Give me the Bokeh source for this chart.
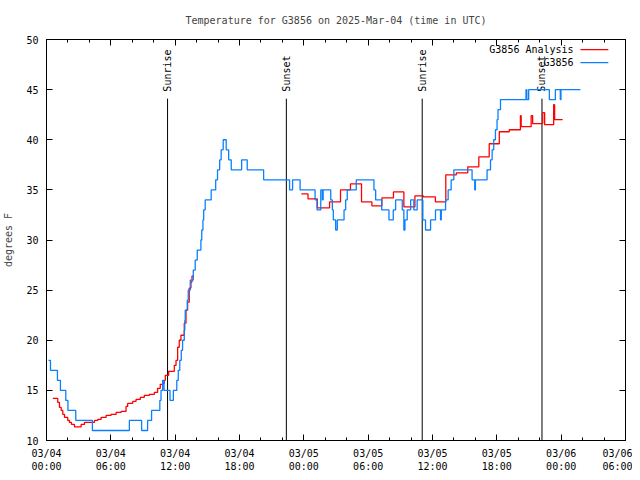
import math
from bokeh.plotting import figure
from bokeh.models import Range1d, FixedTicker, LinearAxis, Label, Arrow
from bokeh.core.properties import value
from bokeh.embed import file_html
from bokeh.resources import INLINE

FONT = "DejaVu Sans Mono"
RED = "#ff0000"
BLUE = "#0a80ff"

title_text = "Temperature for G3856 on 2025-Mar-04 (time in UTC)"
x_tick_hours = [0, 6, 12, 18, 24, 30, 36, 42, 48, 54]
x_tick_labels = ["03/04\n00:00", "03/04\n06:00", "03/04\n12:00", "03/04\n18:00",
                 "03/05\n00:00", "03/05\n06:00", "03/05\n12:00", "03/05\n18:00",
                 "03/06\n00:00", "03/06\n06:00"]
x_minor_hours = [h for h in range(0, 55, 2)]
y_ticks = [10, 15, 20, 25, 30, 35, 40, 45, 50]

# Observations (G3856), hours since 03/04 00:00 UTC, deg F
obs_hours = [0.19, 0.37, 1.02, 1.30, 1.80, 2.00, 2.73, 4.28, 7.73, 8.87, 9.43, 9.80,
             10.57, 10.68, 10.83, 10.96, 11.52, 11.83, 12.15, 12.29, 12.43, 12.57,
             12.69, 12.85, 12.90, 12.94, 13.13, 13.22, 13.41, 13.69, 13.87, 14.06,
             14.40, 14.48, 14.59, 14.66, 14.80, 15.36, 15.78, 15.95, 16.15, 16.29,
             16.48, 16.76, 16.99, 17.23, 18.20, 18.72, 20.25, 22.67, 22.95, 23.65,
             25.05, 25.23, 25.58, 25.73, 25.80, 26.51, 26.66, 26.75, 26.97, 27.12,
             27.75, 27.90, 28.05, 28.89, 30.54, 30.70, 31.26, 31.94, 32.34, 32.56,
             33.18, 33.33, 33.43, 33.64, 33.96, 34.26, 34.57, 35.10, 35.35, 35.82,
             36.28, 36.75, 36.82, 37.22, 37.46, 37.74, 37.99, 39.69, 39.94, 40.00,
             41.09, 41.41, 41.56, 41.71, 41.87, 42.02, 42.11, 42.34, 44.72, 44.80,
             44.97, 46.90, 47.46, 47.92, 47.98, 49.79]
obs_temps = [18, 17, 16, 15, 14, 13, 12, 11, 12, 11, 12, 13,
             14, 15, 16, 15, 14, 15, 16, 17, 18, 19,
             20, 21, 22, 23, 24, 25, 26, 27, 28, 29,
             30, 31, 32, 33, 34, 35, 36, 37, 38, 39,
             40, 39, 38, 37, 38, 37, 36, 35, 36, 35,
             34, 33, 35, 34, 35, 34, 33, 32, 31, 32,
             33, 34, 35, 36, 35, 34, 33, 32, 33, 34,
             33, 31, 32, 33, 34, 33, 34, 32, 31, 32,
             33, 32, 33, 34, 35, 36, 37, 36, 35, 36,
             37, 38, 39, 40, 41, 42, 43, 44, 45, 44,
             45, 44, 45, 44, 45, 45]

# Analysis (G3856 Analysis), first stretch
ana1_hours = [0.59, 1.05, 1.21, 1.37, 1.52, 1.68, 1.98, 2.14, 2.33, 2.61, 3.23, 3.54,
              4.47, 4.78, 5.09, 5.56, 6.02, 6.49, 6.96, 7.42, 7.57, 8.04, 8.35, 8.75,
              9.12, 9.59, 10.06, 10.36, 10.61, 10.83, 10.99, 11.08, 11.39, 11.92, 12.08,
              12.23, 12.38, 12.54, 12.85, 13.01, 13.16, 13.31, 13.47, 13.57, 13.75]
ana1_temps = [14.2, 13.8, 13.3, 13.0, 12.6, 12.3, 12.0, 11.8, 11.6, 11.35, 11.6, 11.8,
              12.0, 12.1, 12.3, 12.5, 12.6, 12.8, 12.9, 13.4, 13.7, 13.9, 14.1, 14.3,
              14.5, 14.6, 14.8, 15.2, 15.6, 15.7, 16.0, 16.5, 16.9, 17.5, 18.0,
              19.3, 20.0, 20.5, 21.7, 23.0, 23.8, 25.2, 25.8, 26.4, 26.4]
# Analysis, second stretch
ana2_hours = [23.77, 24.39, 25.26, 26.40, 27.42, 28.35, 29.38, 30.35, 31.28, 32.36,
              33.33, 34.36, 35.15, 36.27, 37.24, 38.22, 39.29, 40.32, 41.29, 42.23,
              43.16, 44.20, 44.27, 45.20, 45.34, 46.28, 46.46, 47.30, 47.39, 48.14]
ana2_temps = [34.6, 34.1, 33.2, 33.8, 35.0, 35.6, 33.8, 33.4, 34.2, 34.8,
              33.3, 34.4, 34.3, 33.8, 36.5, 36.7, 37.3, 38.3, 39.6, 40.8,
              41.0, 42.4, 41.3, 42.4, 41.6, 42.7, 41.5, 43.5, 42.0, 42.0]

event_hours = [11.29, 22.37, 35.04, 46.21]
event_names = ["Sunrise", "Sunset", "Sunrise", "Sunset"]
event_line_top = 44.1
event_label_base = 44.8

p = figure(width=632, height=474, output_backend="svg", toolbar_location=None,
           x_range=Range1d(0, 54), y_range=Range1d(10, 50),
           min_border_left=46, min_border_right=7, min_border_top=39, min_border_bottom=31,
           title=title_text)
p.title.align = "center"
p.title.vertical_align = "top"
p.title.standoff = 24
p.title.text_font = FONT
p.title.text_font_size = "10px"
p.title.text_font_style = "normal"
p.xgrid.visible = False
p.ygrid.visible = False
p.outline_line_color = "black"
p.outline_line_width = 1
p.background_fill_color = "white"
p.border_fill_color = "white"

xticker = FixedTicker(ticks=x_tick_hours, minor_ticks=x_minor_hours)
yticker = FixedTicker(ticks=y_ticks, minor_ticks=[])

for ax in p.xaxis:
    ax.ticker = xticker
    ax.major_label_overrides = {h: lab for h, lab in zip(x_tick_hours, x_tick_labels)}
for ax in p.yaxis:
    ax.ticker = yticker
    ax.axis_label = "degrees F"

def style_axis(ax):
    ax.axis_line_color = "black"
    ax.major_tick_in = 6
    ax.major_tick_out = 0
    ax.minor_tick_in = 3
    ax.minor_tick_out = 0
    ax.major_tick_line_color = "black"
    ax.minor_tick_line_color = "black"
    ax.major_label_text_font = FONT
    ax.major_label_text_font_size = "10px"
    ax.major_label_text_color = "black"
    ax.major_label_standoff = 7
    ax.axis_label_text_font = FONT
    ax.axis_label_text_font_size = "10px"
    ax.axis_label_text_font_style = "normal"

for ax in p.xaxis + p.yaxis:
    style_axis(ax)
p.yaxis[0].major_label_standoff = 8
p.yaxis[0].axis_label_standoff = 9

top_axis = LinearAxis(ticker=xticker)
right_axis = LinearAxis(ticker=yticker)
for ax, ticks in ((top_axis, x_tick_hours), (right_axis, y_ticks)):
    style_axis(ax)
    ax.major_label_overrides = {t: "" for t in ticks}
    ax.major_label_standoff = 0
    ax.axis_line_color = None
p.add_layout(top_axis, "above")
p.add_layout(right_axis, "right")

# Sunrise / sunset markers
p.segment(x0=event_hours, y0=[10] * len(event_hours), x1=event_hours,
          y1=[event_line_top] * len(event_hours), line_color="black", line_width=1)
p.text(x=event_hours, y=[event_label_base] * len(event_hours), text=event_names,
       angle=math.pi / 2, text_align="left", text_baseline="middle",
       text_font=value(FONT), text_font_size="10px", text_color="black")

# Series
p.step(ana1_hours, ana1_temps, mode="after", line_color=RED, line_width=1.3)
p.step(ana2_hours, ana2_temps, mode="after", line_color=RED, line_width=1.3)
p.step(obs_hours, obs_temps, mode="after", line_color=BLUE, line_width=1.3)

# Legend (text right-aligned, sample line to its right)
leg_text_x = 49.16
leg_line = (49.8, 52.4)
for name, col, yy in [("G3856 Analysis", RED, 49.0), ("G3856", BLUE, 47.7)]:
    p.add_layout(Label(x=leg_text_x, y=yy, text=name, text_align="right",
                       text_baseline="middle", text_font=FONT, text_font_size="10px",
                       text_color="black"))
    p.add_layout(Arrow(end=None, x_start=leg_line[0], y_start=yy, x_end=leg_line[1],
                       y_end=yy, line_color=col, line_width=1.3))

open("out.html", "w").write(file_html(p, INLINE))
